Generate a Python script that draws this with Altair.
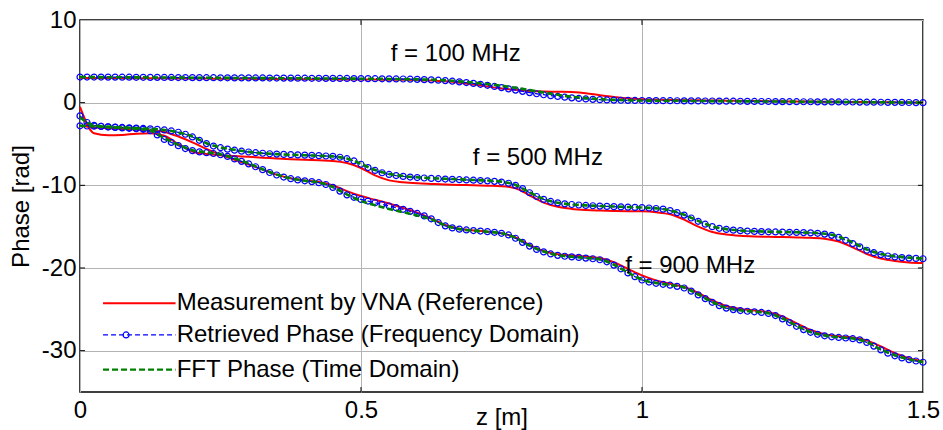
import altair as alt
import pandas as pd

FONT = "Liberation Sans"
FS = 24

# Sample positions along the line (m)
Z_FINE = [round(i * 0.0125, 4) for i in range(121)]
Z_COARSE = [round(j * 0.025, 4) for j in range(61)]

# Retrieved phase (frequency domain), rad
blue_100 = [3.10, 3.10, 3.10, 3.10, 3.09, 3.09, 3.08, 3.08, 3.07, 3.07, 3.06, 3.06, 3.05, 3.05, 3.04, 3.04,
            3.03, 3.03, 3.02, 3.02, 3.01, 3.01, 3.00, 3.00, 3.00,
            2.99, 2.99, 2.98, 2.98, 2.97, 2.97, 2.96, 2.96, 2.95, 2.95, 2.94, 2.94, 2.93, 2.93, 2.92, 2.92,
            2.91, 2.90, 2.89, 2.88, 2.87, 2.86, 2.84, 2.82,
            2.79, 2.76, 2.72, 2.67, 2.60, 2.52, 2.43, 2.33,
            2.22, 2.10, 1.96, 1.82, 1.67, 1.52, 1.37, 1.22,
            1.08, 0.96, 0.85, 0.75, 0.66, 0.58, 0.51, 0.45,
            0.40, 0.36, 0.33, 0.31, 0.29, 0.28, 0.27, 0.26,
            0.25, 0.25, 0.24, 0.24, 0.23, 0.22, 0.22, 0.21, 0.20, 0.20, 0.19, 0.18, 0.18, 0.17, 0.16, 0.15,
            0.14, 0.14, 0.13, 0.13, 0.12, 0.12, 0.11, 0.11, 0.10, 0.10, 0.09, 0.09, 0.08, 0.08, 0.07, 0.06,
            0.06, 0.05, 0.04, 0.04, 0.03, 0.02, 0.01, 0.00]
blue_500 = [-2.80, -2.82, -2.85, -2.88, -2.92, -2.96, -3.00, -3.04, -3.08,
            -3.12, -3.17, -3.22, -3.30, -3.42, -3.58, -3.82, -4.15,
            -4.55, -4.95, -5.25, -5.45, -5.62, -5.75, -5.87, -5.97,
            -6.05, -6.12, -6.18, -6.22, -6.26, -6.29, -6.32, -6.35,
            -6.38, -6.41, -6.45, -6.50, -6.60, -6.78, -7.05, -7.45,
            -7.85, -8.20, -8.48, -8.68, -8.82, -8.92, -9.00, -9.06,
            -9.11, -9.16, -9.20, -9.24, -9.28, -9.32, -9.35, -9.38,
            -9.42, -9.46, -9.52, -9.60, -9.75, -10.00, -10.40, -10.90,
            -11.35, -11.70, -11.95, -12.12, -12.24, -12.32, -12.38, -12.43,
            -12.47, -12.51, -12.55, -12.58, -12.61, -12.64, -12.67, -12.70,
            -12.74, -12.80, -12.88, -13.05, -13.30, -13.60, -13.95, -14.35,
            -14.70, -15.00, -15.20, -15.33, -15.42, -15.48, -15.53, -15.57,
            -15.60, -15.62, -15.64, -15.66, -15.68, -15.70, -15.72, -15.75,
            -15.80, -15.90, -16.05, -16.30, -16.65, -17.05, -17.45, -17.85,
            -18.15, -18.38, -18.55, -18.66, -18.74, -18.80, -18.84, -18.88]
blue_900 = [-1.60, -2.40, -2.75, -2.85, -2.93, -3.00, -3.05, -3.10, -3.15, -3.22, -3.40, -3.90, -4.45,
            -4.80, -5.20, -5.55, -5.80, -5.95, -6.05, -6.15, -6.30, -6.50, -6.80, -7.10, -7.40,
            -7.75, -8.10, -8.45, -8.75, -9.00, -9.20, -9.35, -9.45, -9.55, -9.68, -9.90, -10.25,
            -10.70, -11.15, -11.45, -11.70, -11.90, -12.10, -12.30, -12.50, -12.70, -12.90, -13.15, -13.40,
            -13.70, -14.05, -14.50, -14.90, -15.15, -15.30, -15.40, -15.47, -15.53, -15.60, -15.68, -15.80,
            -16.00, -16.40, -16.90, -17.35, -17.75, -18.05, -18.30, -18.47, -18.58, -18.65, -18.72, -18.80,
            -18.88, -19.00, -19.25, -19.65, -20.10, -20.60, -21.05, -21.45, -21.70, -21.85, -21.97, -22.08,
            -22.22, -22.42, -22.80, -23.25, -23.70, -24.15, -24.55, -24.85, -25.03, -25.15, -25.23, -25.30,
            -25.38, -25.50, -25.75, -26.15, -26.60, -27.05, -27.45, -27.78, -28.02, -28.20, -28.32, -28.40,
            -28.47, -28.55, -28.70, -29.00, -29.45, -29.90, -30.30, -30.62, -30.88, -31.08, -31.25, -31.40]

# Measurement by VNA (reference), rad
red_100 = [3.00, 2.99, 2.98, 2.97, 2.96, 2.95, 2.94, 2.93, 2.92, 2.91, 2.90, 2.89, 2.88, 2.87, 2.86, 2.85,
           2.84, 2.83, 2.82, 2.81, 2.80, 2.79, 2.78, 2.76, 2.73, 2.68, 2.58, 2.42, 2.20, 1.95, 1.72, 1.55,
           1.42, 1.35, 1.32, 1.28, 1.15, 0.90, 0.70, 0.52, 0.42, 0.36, 0.33, 0.30, 0.28, 0.26, 0.24, 0.22,
           0.20, 0.18, 0.16, 0.15, 0.13, 0.12, 0.10, 0.09, 0.07, 0.06, 0.04, 0.03, 0.02]
red_500 = [-0.50, -3.70, -3.95, -3.90, -3.75, -3.70, -4.00, -5.00, -5.90, -6.20, -6.35, -6.45, -6.55,
           -6.65, -6.75, -6.85, -6.92, -6.98, -7.05, -7.30, -7.90, -8.80, -9.40, -9.62, -9.75, -9.83,
           -9.90, -9.95, -10.00, -10.05, -10.10, -10.35, -11.20, -12.10, -12.60, -12.85, -12.98, -13.05,
           -13.10, -13.13, -13.15, -13.25, -13.50, -14.15, -15.00, -15.65, -15.95, -16.10, -16.18, -16.22,
           -16.26, -16.30, -16.35, -16.45, -16.80, -17.50, -18.30, -18.85, -19.15, -19.32, -19.40]
red_900 = [-2.80, -3.00, -3.10, -3.18, -3.25, -3.35, -3.55, -4.10, -4.80, -5.60, -6.30, -6.90, -7.50,
           -8.10, -8.70, -9.15, -9.40, -9.60, -10.00, -10.70, -11.30, -11.75, -12.20, -12.75, -13.30,
           -14.00, -14.80, -15.25, -15.45, -15.60, -15.80, -16.30, -17.20, -17.95, -18.35, -18.50, -18.60,
           -18.80, -19.30, -20.10, -20.90, -21.50, -21.90, -22.30, -23.00, -23.90, -24.60, -24.95, -25.15,
           -25.35, -25.85, -26.70, -27.50, -28.00, -28.25, -28.40, -28.75, -29.50, -30.30, -30.90, -31.30]

# FFT phase (time domain), rad
green_100 = [3.10, 3.09, 3.08, 3.07, 3.06, 3.05, 3.04, 3.03, 3.02, 3.01, 3.00, 2.99, 2.98, 2.97, 2.96, 2.95,
             2.94, 2.93, 2.92, 2.91, 2.90, 2.89, 2.87, 2.85, 2.82, 2.78, 2.70, 2.58, 2.42, 2.25, 2.05, 1.80,
             1.52, 1.22, 0.95, 0.72, 0.55, 0.42, 0.34, 0.29, 0.26, 0.24, 0.23, 0.22, 0.20, 0.19, 0.18, 0.16,
             0.15, 0.14, 0.13, 0.12, 0.11, 0.10, 0.09, 0.08, 0.06, 0.05, 0.03, 0.02, 0.00]
green_500 = [-2.80, -2.86, -2.93, -3.00, -3.08, -3.17, -3.30, -3.60, -4.10, -4.90, -5.40, -5.70, -5.95,
             -6.12, -6.22, -6.30, -6.36, -6.42, -6.50, -6.75, -7.40, -8.15, -8.62, -8.88, -9.03, -9.13,
             -9.21, -9.28, -9.35, -9.42, -9.55, -9.95, -10.85, -11.65, -12.10, -12.30, -12.42, -12.50,
             -12.56, -12.62, -12.68, -12.78, -13.02, -13.55, -14.30, -14.95, -15.30, -15.47, -15.55, -15.60,
             -15.64, -15.68, -15.73, -15.85, -16.20, -16.90, -17.75, -18.30, -18.58, -18.74, -18.85]
green_900 = [-1.80, -2.75, -2.93, -3.05, -3.15, -3.35, -4.30, -5.10, -5.75, -6.00, -6.25, -6.75, -7.35,
             -8.05, -8.70, -9.15, -9.45, -9.65, -10.20, -11.10, -11.90, -12.40, -12.85, -13.25, -13.65,
             -14.10, -14.85, -15.30, -15.47, -15.62, -15.80, -16.35, -17.30, -18.00, -18.45, -18.63, -18.78,
             -18.95, -19.60, -20.55, -21.40, -21.82, -22.05, -22.35, -23.20, -24.10, -24.82, -25.12, -25.28,
             -25.48, -26.10, -27.00, -27.75, -28.15, -28.38, -28.52, -28.95, -29.85, -30.55, -31.03, -31.38]

FREQS = ["100 MHz", "500 MHz", "900 MHz"]
LEGEND_LABELS = ["Measurement by VNA (Reference)",
                 "Retrieved Phase (Frequency Domain)",
                 "FFT Phase (Time Domain)"]


def long_frame(z, series_list):
    rows = []
    for freq, vals in zip(FREQS, series_list):
        for zz, v in zip(z, vals):
            rows.append({"z": zz, "phase": v, "freq": freq})
    return pd.DataFrame(rows)


red_df = long_frame(Z_COARSE, [red_100, red_500, red_900])
blue_df = long_frame(Z_FINE, [blue_100, blue_500, blue_900])
green_df = long_frame(Z_COARSE, [green_100, green_500, green_900])

xs = alt.Scale(domain=[0, 1.5], nice=False, zero=False)
ys = alt.Scale(domain=[-35, 10], nice=False, zero=False)

x_axis = alt.Axis(values=[0, 0.5, 1, 1.5], labelExpr="'' + datum.value", labelFlush=False,
                  title="z [m]", titleY=13, titleBaseline="top", labelPadding=6)
y_axis = alt.Axis(values=[-30, -20, -10, 0, 10], labelExpr="'' + datum.value",
                  title="Phase [rad]", labelPadding=4, titlePadding=8)

X = alt.X("z:Q", scale=xs, axis=x_axis)
Y = alt.Y("phase:Q", scale=ys, axis=y_axis)

BLUE_DASH = [5, 3]
GREEN_DASH = [6, 3]

red = alt.Chart(red_df).mark_line(color="#ff0000", strokeWidth=2, interpolate="monotone").encode(
    x=X, y=Y, detail="freq:N")
blue_line = alt.Chart(blue_df).mark_line(color="#0000ff", strokeWidth=1.3, strokeDash=BLUE_DASH).encode(
    x="z:Q", y="phase:Q", detail="freq:N")
blue_pts = alt.Chart(blue_df).mark_point(shape="circle", filled=False, color="#0000ff", size=36,
                                         strokeWidth=1.2, opacity=1).encode(x="z:Q", y="phase:Q")
green = alt.Chart(green_df).mark_line(color="#008000", strokeWidth=2.6, strokeDash=GREEN_DASH,
                                      interpolate="monotone").encode(x="z:Q", y="phase:Q", detail="freq:N")

# Inward tick marks on all four sides
tick_rows = []
for v in [0.5, 1.0]:
    tick_rows.append({"x": v, "x2": v, "y": -35, "y2": -34.4})
    tick_rows.append({"x": v, "x2": v, "y": 10, "y2": 9.4})
for v in [-30, -20, -10, 0]:
    tick_rows.append({"x": 0, "x2": 0.009, "y": v, "y2": v})
    tick_rows.append({"x": 1.5, "x2": 1.491, "y": v, "y2": v})
ticks = alt.Chart(pd.DataFrame(tick_rows)).mark_rule(color="black", strokeWidth=1).encode(
    x="x:Q", x2="x2:Q", y="y:Q", y2="y2:Q")

# Frequency annotations
ann_df = pd.DataFrame({
    "label": ["f = 100 MHz", "f = 500 MHz", "f = 900 MHz"],
    "z": [0.553, 0.699, 0.970],
    "phase": [5.9, -6.75, -19.8],
})
ann = alt.Chart(ann_df).mark_text(align="left", baseline="middle", font=FONT, fontSize=FS,
                                  color="black").encode(x="z:Q", y="phase:Q", text="label:N")

# Legend drawn inside the axes
leg_y = [-24.25, -28.1, -32.3]
leg_x0, leg_x1, leg_tx = 0.041, 0.170, 0.172
leg_red = alt.Chart(pd.DataFrame({"x": [leg_x0], "x2": [leg_x1], "y": [leg_y[0]]})).mark_rule(
    color="#ff0000", strokeWidth=2).encode(x="x:Q", x2="x2:Q", y="y:Q")
leg_blue = alt.Chart(pd.DataFrame({"x": [leg_x0], "x2": [leg_x1], "y": [leg_y[1]]})).mark_rule(
    color="#0000ff", strokeWidth=1.3, strokeDash=BLUE_DASH).encode(x="x:Q", x2="x2:Q", y="y:Q")
leg_blue_pt = alt.Chart(pd.DataFrame({"x": [0.082], "y": [leg_y[1]]})).mark_point(
    shape="circle", filled=False, color="#0000ff", size=36, strokeWidth=1.2, opacity=1).encode(
    x="x:Q", y="y:Q")
leg_green = alt.Chart(pd.DataFrame({"x": [leg_x0], "x2": [leg_x1], "y": [leg_y[2]]})).mark_rule(
    color="#008000", strokeWidth=2.2, strokeDash=GREEN_DASH).encode(x="x:Q", x2="x2:Q", y="y:Q")
leg_text = alt.Chart(pd.DataFrame({"x": [leg_tx] * 3, "y": leg_y, "label": LEGEND_LABELS})).mark_text(
    align="left", baseline="middle", font=FONT, fontSize=FS, color="black").encode(
    x="x:Q", y="y:Q", text="label:N")

chart = alt.layer(
    red, blue_line, blue_pts, green, ticks, ann,
    leg_red, leg_blue, leg_blue_pt, leg_green, leg_text,
).properties(
    width=843, height=372,
    padding={"left": 80, "top": 20, "right": 20, "bottom": 38},
    autosize=alt.AutoSizeParams(type="none"),
    background="white",
).configure_view(
    stroke="black", strokeWidth=1.5,
).configure_axis(
    grid=True, gridColor="#b4b4b4", gridWidth=1, domain=False, ticks=False,
    labelFont=FONT, labelFontSize=FS, labelColor="black",
    titleFont=FONT, titleFontSize=FS, titleFontWeight="normal", titleColor="black",
)

chart.save("out.html", embed_options={"renderer": "svg", "actions": False})
